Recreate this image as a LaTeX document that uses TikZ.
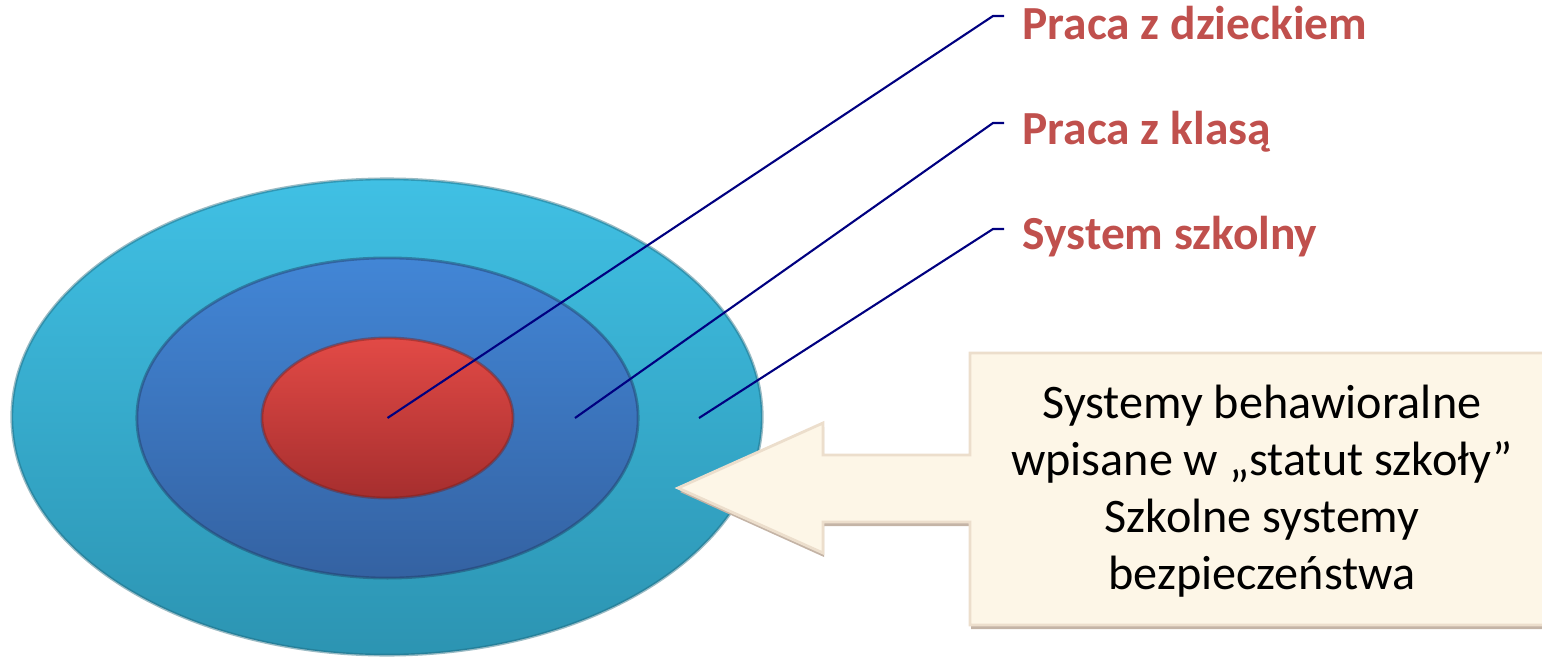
\documentclass[tikz,border=0pt]{standalone}
\usepackage{fontspec}
\setmainfont{Carlito}
\usetikzlibrary{shapes.geometric,positioning,calc}

\definecolor{cyantop}{RGB}{64,192,228}
\definecolor{cyanbot}{RGB}{44,148,178}
\definecolor{bluetop}{RGB}{66,134,214}
\definecolor{bluebot}{RGB}{52,98,162}
\definecolor{redtop}{RGB}{226,74,70}
\definecolor{redbot}{RGB}{166,46,46}
\definecolor{labelred}{RGB}{192,80,77}
\definecolor{leaderblue}{RGB}{0,0,128}
\definecolor{cream}{RGB}{253,246,231}
\definecolor{creamedge}{RGB}{236,222,204}
\definecolor{creamshadow}{RGB}{196,180,166}

\begin{document}
\begin{tikzpicture}[x=0.01cm,y=0.01cm,
  ring/.style={ellipse,inner sep=0pt,line width=0.8pt,draw opacity=0.45},
  lvl/.style={font=\bfseries\fontsize{13.5}{16}\selectfont,text=labelred,
    inner sep=0pt,anchor=base west},
  leader/.style={leaderblue,line width=0.6pt},
  note/.style={font=\fontsize{13.7}{16.2}\selectfont,align=center,inner sep=0pt},
]
\useasboundingbox (0,0) rectangle (1542,657);

%--- target rings -------------------------------------------------------
\node[ring,draw=cyanbot!70!black,top color=cyantop,bottom color=cyanbot,
  minimum width=7.5cm,minimum height=4.76cm] (outer) at (387,240) {};
\node[ring,draw=bluebot!60!black,top color=bluetop,bottom color=bluebot,
  minimum width=5.01cm,minimum height=3.2cm] (middle) at (387.5,239) {};
\node[ring,draw=redbot!70!black,top color=redtop,bottom color=redbot,
  minimum width=2.51cm,minimum height=1.6cm] (inner) at (387.5,239) {};

%--- labels -------------------------------------------------------------
\node[lvl] (child)  at (1022,617) {Praca z dzieckiem};
\node[lvl] (class)  at (1022,512) {Praca z klasą};
\node[lvl] (school) at (1022,407) {System szkolny};

%--- leader lines -------------------------------------------------------
\coordinate (p1) at (inner.center);
\coordinate (p2) at (575,239);
\coordinate (p3) at (699,239);
\coordinate (k1) at (993,641);
\coordinate (k2) at (993,534);
\coordinate (k3) at (993,428);
\foreach \i in {1,2,3}{
  \draw[leader] (p\i) -- (k\i) -- ++(11,0);
}

%--- arrow callout ------------------------------------------------------
\fill[creamshadow] ($(1552,304)+(1,-4)$) -- (971,300) -- (971,198) -- (824,198)
  -- (824,230) -- (680,165) -- (824,100) -- (824,131) -- (971,131)
  -- (971,28) -- (1552,28) -- cycle;
\filldraw[fill=cream,draw=creamedge,line width=0.8pt]
  (1552,304) -- (970,304) -- (970,202) -- (823,202) -- (823,234)
  -- (678,169) -- (823,104) -- (823,135) -- (970,135) -- (970,32)
  -- (1552,32) -- cycle;
\node[note] (box) at (1262,166)
  {Systemy behawioralne\\wpisane w „statut szkoły”\\Szkolne systemy\\bezpieczeństwa};

\end{tikzpicture}
\end{document}
